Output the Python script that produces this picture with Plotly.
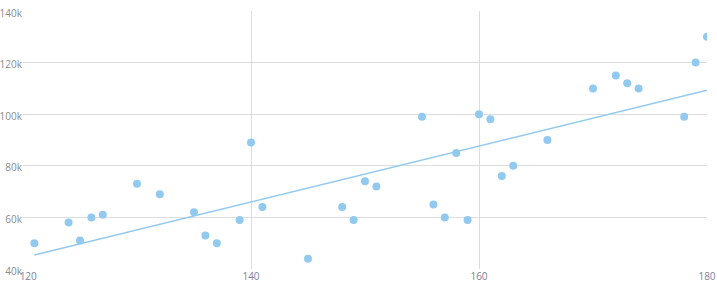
import numpy as np
import plotly.graph_objects as go

x_vals = [121, 124, 125, 126, 127, 130, 132, 135, 136, 137, 139, 140,
          141, 145, 148, 149, 150, 151, 155, 156, 157, 158, 159, 160,
          161, 162, 163, 166, 170, 172, 173, 174, 178, 179, 180]
y_vals = [50000, 58000, 51000, 60000, 61000, 73000, 69000, 62000, 53000, 50000, 59000, 89000,
          64000, 44000, 64000, 59000, 74000, 72000, 99000, 65000, 60000, 85000, 59000, 100000,
          98000, 76000, 80000, 90000, 110000, 115000, 112000, 110000, 99000, 120000, 130000]

x_ticks = [120, 140, 160, 180]
x_tick_text = ["\u00a0\u00a0\u00a0\u00a0120", "140", "160", "180"]
y_ticks = [40000, 60000, 80000, 100000, 120000, 140000]
y_tick_text = ["40k", "60k", "80k", "100k", "120k", "140k"]

color = "#92caef"

slope, intercept = np.polyfit(x_vals, y_vals, 1)
trend_x = [min(x_vals), max(x_vals)]
trend_y = [slope * v + intercept for v in trend_x]

fig = go.Figure()
fig.add_trace(go.Scatter(x=trend_x, y=trend_y, mode="lines",
                         line=dict(color=color, width=1.5), hoverinfo="skip"))
fig.add_trace(go.Scatter(x=x_vals, y=y_vals, mode="markers",
                         marker=dict(color=color, size=8, line=dict(width=0))))

fig.update_layout(
    width=717, height=282,
    margin=dict(l=23, r=10, t=11, b=13),
    paper_bgcolor="white", plot_bgcolor="white",
    showlegend=False,
    font=dict(family="Open Sans", size=10, color="#8a8a8a"),
)
fig.update_xaxes(range=[120, 180], tickvals=x_ticks, ticktext=x_tick_text,
                 showgrid=True, gridcolor="#dddddd", gridwidth=1,
                 zeroline=False, showline=False, ticks="", automargin=False,
                 ticklabelstandoff=0, tickfont=dict(color="#7e8098"))
fig.update_yaxes(range=[40000, 140000], tickvals=y_ticks, ticktext=y_tick_text,
                 showgrid=True, gridcolor="#dddddd", gridwidth=1,
                 zeroline=False, showline=False, ticks="", automargin=False,
                 ticklabelstandoff=0, ticklabelshift=2)

fig.write_html("out.html")
